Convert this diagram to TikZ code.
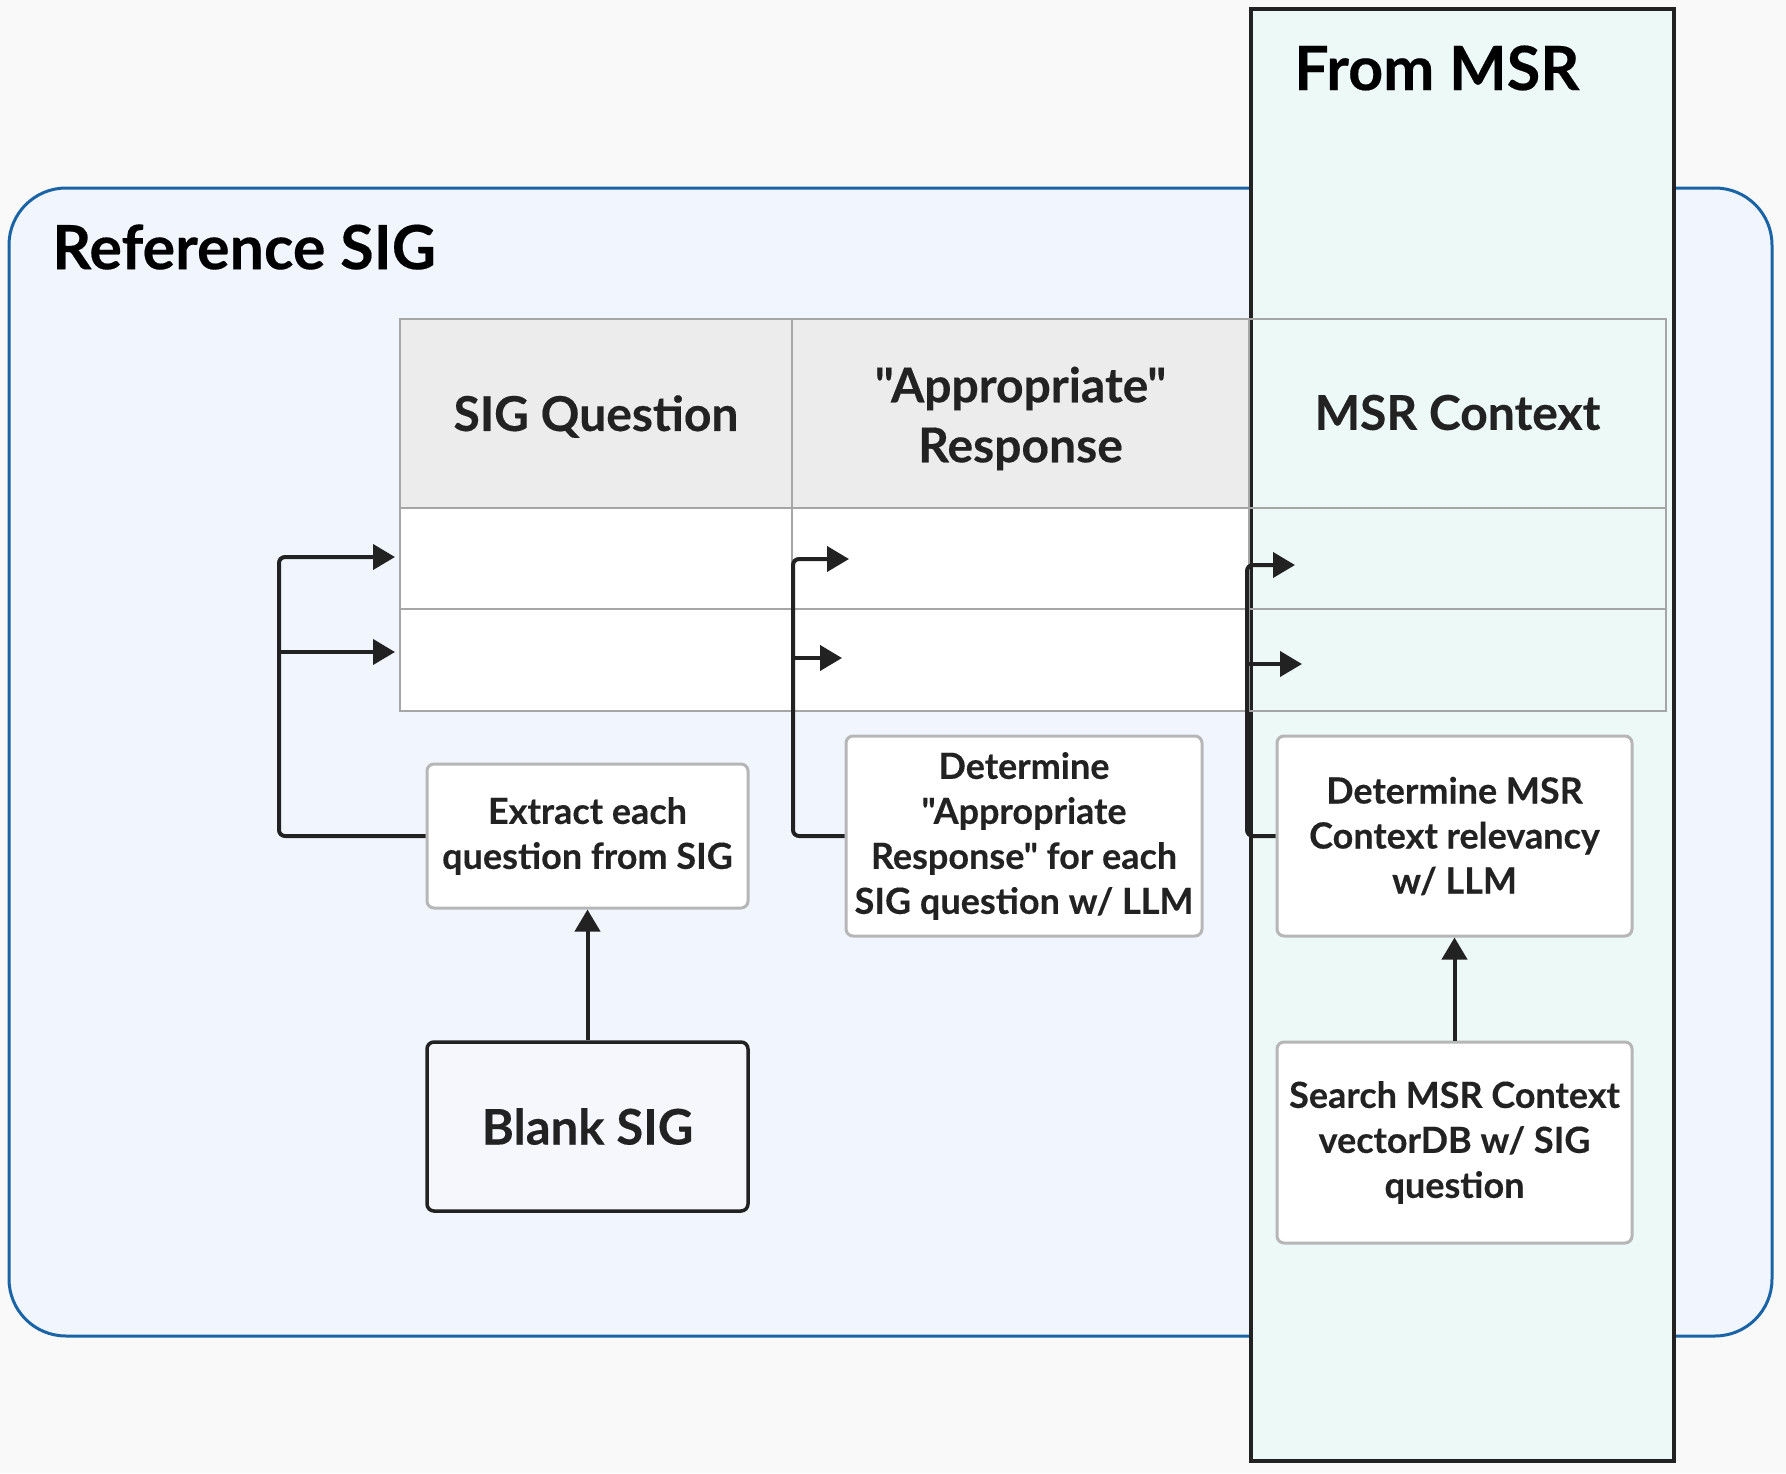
\documentclass[tikz,border=0pt]{standalone}
\usepackage{fontspec}
\setmainfont{Lato}[Ligatures=TeXOff, BoldFeatures={FakeBold=0.3}]
\usetikzlibrary{arrows.meta}
\definecolor{bg}{HTML}{F9F9F9}
\definecolor{reffill}{HTML}{F1F6FE}
\definecolor{refdraw}{HTML}{1A64A6}
\definecolor{msrfill}{HTML}{EDF9F6}
\definecolor{ink}{HTML}{222222}
\definecolor{hdrfill}{HTML}{ECECEC}
\definecolor{tgray}{HTML}{A6A6A6}
\definecolor{boxgray}{HTML}{B6B6B6}
\definecolor{blankfill}{HTML}{F6F6FD}
\begin{document}
\begin{tikzpicture}[x=1pt,y=-1pt,
  conn/.style={draw=ink, line width=4pt, rounded corners=6pt, -{Triangle[length=22pt,width=25pt]}},
  proc/.style={draw=boxgray, line width=3pt, fill=white, rounded corners=7pt, align=center,
    text=ink, inner sep=0pt, font=\bfseries\fontsize{36}{45}\selectfont},
  hcell/.style={draw=tgray, line width=2.5pt, fill=hdrfill, inner sep=0pt},
  htext/.style={inner sep=0pt, align=center, text=ink, font=\bfseries\fontsize{48}{60}\selectfont},
  cell/.style={draw=tgray, line width=2.5pt, fill=white, inner sep=0pt},
  title/.style={anchor=west, inner sep=0pt, text=black, font=\bfseries\fontsize{61}{70}\selectfont}]
\useasboundingbox (0,0) rectangle (1786,1473);
\fill[bg] (0,0) rectangle (1786,1473);
% containers
\node[draw=refdraw, fill=reffill, line width=3pt, rounded corners=57pt,
  minimum width=1763pt, minimum height=1148pt, inner sep=0pt] (ref) at (890.5,762) {};
\node[title] (reftitle) at (52,247) {Reference SIG};
\node[draw=ink, fill=msrfill, line width=3.5pt, minimum width=423pt, minimum height=1452pt,
  inner sep=0pt] (msr) at (1462.5,735) {};
\node[title] (msrtitle) at (1294,68) {From MSR};
% table
\node[hcell, minimum width=392pt, minimum height=189pt] (h1) at (596,413.5) {};
\node[hcell, minimum width=457pt, minimum height=189pt] (h2) at (1020.5,413.5) {};
\node[hcell, fill=none, minimum width=417pt, minimum height=189pt] (h3) at (1457.5,413.5) {};
\node[htext] (h1t) at ([yshift=-3pt]h1.center) {SIG Question};
\node[htext] (h2t) at ([yshift=-5pt]h2.center) {"Appropriate"\\Response};
\node[htext] (h3t) at ([yshift=1pt]h3.center) {MSR Context};
\node[cell, minimum width=392pt, minimum height=101pt] (q1) at (596,558.5) {};
\node[cell, minimum width=457pt, minimum height=101pt] (r1) at (1020.5,558.5) {};
\node[cell, fill=none, minimum width=417pt, minimum height=101pt] (c1) at (1457.5,558.5) {};
\node[cell, minimum width=392pt, minimum height=102pt] (q2) at (596,660) {};
\node[cell, minimum width=457pt, minimum height=102pt] (r2) at (1020.5,660) {};
\node[cell, fill=none, minimum width=417pt, minimum height=102pt] (c2) at (1457.5,660) {};
% process boxes
\node[proc, minimum width=321pt, minimum height=144pt] (ext) at (587.5,836) {Extract each\\question from SIG};
\node[proc, draw=ink, line width=3.5pt, fill=blankfill, minimum width=321pt, minimum height=169pt,
  font=\bfseries\fontsize{49}{56}\selectfont] (blank) at (587.5,1126.5) {Blank SIG};
\node[proc, minimum width=356pt, minimum height=200pt] (det) at (1024,836)
  {Determine\\"Appropriate\\Response" for each\\SIG question w/ LLM};
\node[proc, minimum width=355pt, minimum height=200pt] (rel) at (1454.5,836)
  {Determine MSR\\Context relevancy\\w/ LLM};
\node[proc, minimum width=355pt, minimum height=201pt] (srch) at (1454.5,1142.5)
  {Search MSR Context\\vectorDB w/ SIG\\question};
% connector coordinates
\coordinate (busA) at (279,0);
\coordinate (busB) at (793,0);
\coordinate (busC) at (1247,0);
\coordinate (tA1) at (395,557);
\coordinate (tA2) at (395,652);
\coordinate (tB1) at (849,559);
\coordinate (tB2) at (842,658);
\coordinate (tC1) at (1295,565);
\coordinate (tC2) at (1302,664);
% connectors
\draw[conn] (blank.north) -- (ext.south);
\draw[conn] (srch.north) -- (rel.south);
\draw[conn] (ext.west) -- (ext.west -| busA) |- (tA1);
\draw[conn] (tA2 -| busA) -- (tA2);
\draw[conn] (det.west) -- (det.west -| busB) |- (tB1);
\draw[conn] (tB2 -| busB) -- (tB2);
\draw[conn] (rel.west) -- (rel.west -| busC) |- (tC1);
\draw[conn] (tC2 -| busC) -- (tC2);
\end{tikzpicture}
\end{document}
